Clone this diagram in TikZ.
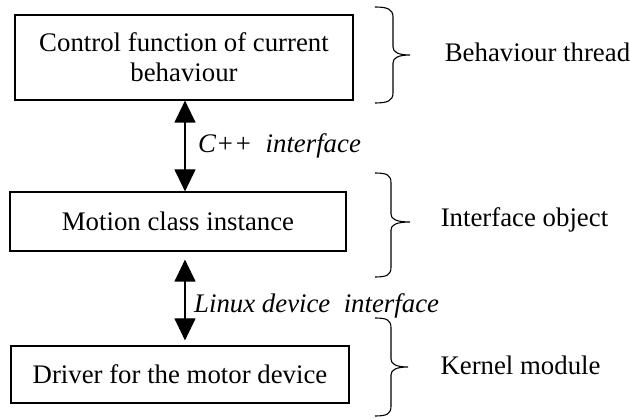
\documentclass[tikz,border=0pt]{standalone}
\usepackage{fontspec}
\setmainfont{Liberation Serif}
\usetikzlibrary{arrows.meta}
\begin{document}
\begin{tikzpicture}[x=1pt,y=-1pt,
  every node/.style={font=\fontsize{26.8}{30}\selectfont},
  stepbox/.style={draw, line width=1.2pt, inner sep=0pt, align=center},
  biarrow/.style={line width=1.2pt, {Triangle[width=21pt,length=22pt]}-{Triangle[width=21pt,length=22pt]}},
  brc/.style={line width=1.1pt},
  lbl/.style={anchor=base, inner sep=0pt}]
\useasboundingbox (0,0) rectangle (630,419);
\node[stepbox, minimum width=338pt, minimum height=85pt] (b1) at (184,57.5) {Control function of current\\behaviour};
\node[stepbox, minimum width=336pt, minimum height=59pt] (b2) at (178,221.5) {Motion class instance};
\node[stepbox, minimum width=338pt, minimum height=57pt] (b3) at (180,374.5) {Driver for the motor device};
\coordinate (ax) at (185,0);
\draw[biarrow] (b1.south -| ax) -- (b2.north -| ax);
\draw[biarrow, shorten <=8pt, shorten >=5pt] (b2.south -| ax) -- (b3.north -| ax);
\node[lbl, anchor=base west] (l1) at (198,153) {\textit{C++\ \ interface}};
\node[lbl, anchor=base west] (l2) at (194,313) {\textit{Linux device\ \ interface}};
\draw[brc] (375,7) .. controls (387,7) and (393,9) .. (393,17) -- (393,47) .. controls (393,52) and (398,55) .. (410,55) .. controls (398,55) and (393,58) .. (393,63) -- (393,93) .. controls (393,101) and (387,103) .. (375,103);
\draw[brc] (375,173) .. controls (387,173) and (391,175) .. (391,183) -- (391,214) .. controls (391,219) and (396,222) .. (410,222) .. controls (396,222) and (391,225) .. (391,230) -- (391,267) .. controls (391,275) and (387,277) .. (375,277);
\draw[brc] (375,318) .. controls (387,318) and (391,320) .. (391,328) -- (391,359) .. controls (391,364) and (396,367) .. (408,367) .. controls (396,367) and (391,370) .. (391,375) -- (391,406) .. controls (391,414) and (387,416) .. (375,416);
\node[lbl] (r1) at (537.5,62) {Behaviour thread};
\node[lbl] (r2) at (524.5,227) {Interface object};
\node[lbl] (r3) at (520.5,375) {Kernel module};
\end{tikzpicture}
\end{document}
